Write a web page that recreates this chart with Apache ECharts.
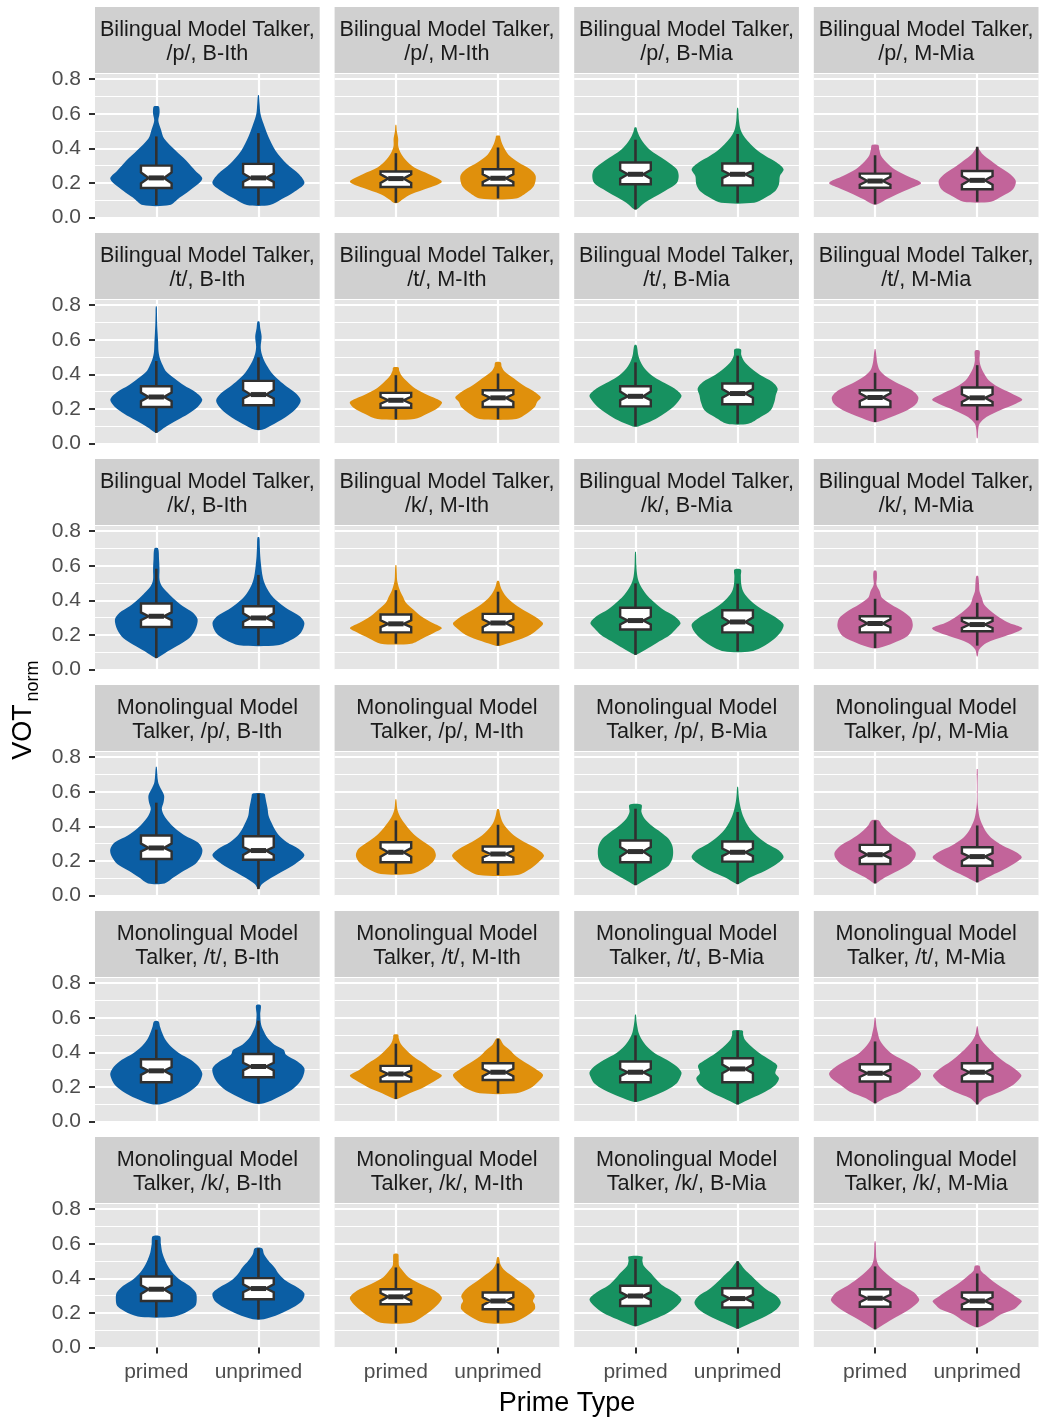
<!DOCTYPE html>
<html>
<head>
<meta charset="utf-8">
<script src="https://cdn.jsdelivr.net/npm/echarts@6/dist/echarts.min.js"></script>
<style>
  html, body { margin: 0; padding: 0; background: #fff; }
  #chart { width: 1041px; height: 1420px; }
</style>
</head>
<body>
<div id="chart"></div>
<script>
// facets
var primeTypes = ['primed', 'unprimed'];
var talkerLabel = ['Bilingual Model Talker,\n', 'Monolingual Model\nTalker, '];
var stops = ['/p/', '/t/', '/k/'];
var conditions = ['B-Ith', 'M-Ith', 'B-Mia', 'M-Mia'];
var fills = ['#0B5EA4', '#E0900C', '#179160', '#C2649A'];
var yTicks = [0, 0.2, 0.4, 0.6, 0.8];

// violin outlines: [VOT, relative half width], bottom to top
// order in each row: B-Ith primed, B-Ith unprimed, M-Ith primed, M-Ith unprimed, B-Mia .., M-Mia ..
var violinsBiP = [
  [[0.072,0.29],[0.116,0.51],[0.155,0.72],[0.223,1.0],[0.27,0.85],[0.33,0.65],[0.388,0.42],[0.457,0.17],[0.51,0.1],[0.56,0.045],[0.6,0.07],[0.628,0.07],[0.643,0.05]],
  [[0.072,0.25],[0.107,0.51],[0.145,0.76],[0.198,1.0],[0.252,0.88],[0.31,0.62],[0.388,0.37],[0.465,0.22],[0.543,0.11],[0.6,0.045],[0.66,0.025],[0.707,0.01]],
  [[0.085,0.05],[0.105,0.15],[0.134,0.33],[0.172,0.72],[0.207,1.0],[0.25,0.72],[0.289,0.4],[0.337,0.2],[0.376,0.1],[0.415,0.05],[0.455,0.05],[0.5,0.02],[0.535,0.01]],
  [[0.11,0.39],[0.143,0.62],[0.182,0.78],[0.24,0.82],[0.279,0.7],[0.318,0.45],[0.357,0.25],[0.395,0.15],[0.434,0.08],[0.463,0.05],[0.473,0.04]],
  [[0.047,0.03],[0.085,0.2],[0.124,0.45],[0.163,0.7],[0.2,0.9],[0.24,0.94],[0.279,0.9],[0.318,0.72],[0.357,0.5],[0.395,0.3],[0.434,0.17],[0.473,0.08],[0.5,0.04],[0.521,0.02]],
  [[0.085,0.36],[0.114,0.6],[0.153,0.82],[0.192,0.9],[0.24,0.92],[0.279,1.0],[0.318,0.85],[0.357,0.6],[0.395,0.4],[0.434,0.25],[0.473,0.13],[0.512,0.06],[0.56,0.03],[0.6,0.02],[0.634,0.01]],
  [[0.076,0.05],[0.105,0.25],[0.143,0.55],[0.172,0.8],[0.2,1.0],[0.24,0.7],[0.279,0.42],[0.318,0.25],[0.357,0.13],[0.395,0.09],[0.419,0.07]],
  [[0.091,0.3],[0.124,0.55],[0.163,0.78],[0.211,0.84],[0.25,0.72],[0.289,0.5],[0.328,0.3],[0.366,0.12],[0.395,0.04],[0.409,0.01]]
];
var violinsBiT = [
  [[0.062,0.02],[0.095,0.2],[0.134,0.45],[0.172,0.7],[0.211,0.9],[0.254,1.0],[0.298,0.85],[0.337,0.6],[0.376,0.4],[0.415,0.22],[0.453,0.14],[0.492,0.08],[0.531,0.05],[0.589,0.04],[0.638,0.03],[0.696,0.02],[0.754,0.015],[0.793,0.01]],
  [[0.079,0.08],[0.114,0.35],[0.163,0.65],[0.211,0.85],[0.25,0.92],[0.289,0.82],[0.328,0.62],[0.366,0.45],[0.405,0.3],[0.444,0.2],[0.483,0.12],[0.521,0.07],[0.56,0.05],[0.618,0.07],[0.667,0.04],[0.705,0.02]],
  [[0.141,0.4],[0.172,0.68],[0.207,0.92],[0.24,1.0],[0.279,0.7],[0.318,0.42],[0.357,0.25],[0.395,0.12],[0.424,0.07],[0.44,0.06]],
  [[0.141,0.4],[0.172,0.62],[0.211,0.8],[0.24,0.85],[0.266,0.93],[0.298,0.8],[0.337,0.55],[0.376,0.35],[0.415,0.15],[0.444,0.08],[0.469,0.06]],
  [[0.099,0.06],[0.134,0.38],[0.172,0.62],[0.211,0.82],[0.25,0.95],[0.279,1.0],[0.318,0.85],[0.357,0.58],[0.395,0.35],[0.434,0.2],[0.473,0.11],[0.512,0.06],[0.55,0.04],[0.57,0.02]],
  [[0.114,0.23],[0.153,0.5],[0.192,0.72],[0.24,0.8],[0.279,0.83],[0.318,0.87],[0.357,0.75],[0.395,0.5],[0.434,0.3],[0.473,0.15],[0.512,0.08],[0.545,0.07]],
  [[0.124,0.05],[0.153,0.35],[0.192,0.7],[0.231,0.9],[0.269,0.94],[0.308,0.8],[0.347,0.5],[0.386,0.25],[0.424,0.1],[0.463,0.05],[0.502,0.03],[0.545,0.01]],
  [[0.031,0.01],[0.076,0.02],[0.114,0.05],[0.153,0.2],[0.192,0.5],[0.231,0.85],[0.254,0.98],[0.289,0.75],[0.328,0.45],[0.366,0.25],[0.405,0.15],[0.444,0.08],[0.483,0.05],[0.537,0.05]]
];
var violinsBiK = [
  [[0.066,0.02],[0.105,0.25],[0.143,0.5],[0.182,0.72],[0.231,0.85],[0.289,0.9],[0.328,0.8],[0.366,0.58],[0.405,0.4],[0.444,0.25],[0.483,0.12],[0.521,0.07],[0.579,0.07],[0.638,0.06],[0.7,0.04]],
  [[0.14,0.42],[0.172,0.72],[0.211,0.92],[0.269,1.0],[0.308,0.9],[0.347,0.65],[0.386,0.45],[0.424,0.3],[0.463,0.2],[0.502,0.13],[0.541,0.09],[0.599,0.06],[0.657,0.04],[0.715,0.03],[0.764,0.02]],
  [[0.149,0.33],[0.182,0.6],[0.215,0.85],[0.24,1.0],[0.269,0.8],[0.308,0.55],[0.347,0.38],[0.386,0.22],[0.424,0.15],[0.463,0.08],[0.512,0.03],[0.56,0.02],[0.603,0.01]],
  [[0.138,0.05],[0.163,0.35],[0.2,0.7],[0.24,0.9],[0.266,0.98],[0.298,0.85],[0.337,0.6],[0.376,0.37],[0.415,0.2],[0.453,0.1],[0.483,0.05],[0.512,0.02]],
  [[0.085,0.02],[0.124,0.28],[0.163,0.52],[0.2,0.75],[0.24,0.9],[0.269,0.98],[0.308,0.85],[0.347,0.6],[0.386,0.42],[0.424,0.27],[0.463,0.16],[0.502,0.08],[0.541,0.04],[0.599,0.02],[0.68,0.01]],
  [[0.105,0.3],[0.143,0.62],[0.182,0.82],[0.221,0.95],[0.26,1.0],[0.298,0.85],[0.337,0.6],[0.376,0.38],[0.415,0.22],[0.453,0.12],[0.492,0.08],[0.541,0.07],[0.579,0.07]],
  [[0.124,0.08],[0.153,0.4],[0.192,0.7],[0.231,0.8],[0.26,0.82],[0.298,0.78],[0.337,0.6],[0.376,0.35],[0.415,0.15],[0.453,0.1],[0.492,0.03],[0.531,0.04],[0.57,0.03]],
  [[0.076,0.01],[0.114,0.04],[0.153,0.2],[0.192,0.6],[0.221,0.9],[0.24,0.98],[0.269,0.7],[0.298,0.5],[0.337,0.3],[0.376,0.15],[0.415,0.1],[0.453,0.05],[0.492,0.04],[0.541,0.02]]
];
var violinsMoP = [
  [[0.07,0.18],[0.105,0.38],[0.143,0.6],[0.182,0.85],[0.231,0.98],[0.269,1.0],[0.308,0.9],[0.347,0.62],[0.386,0.42],[0.424,0.28],[0.463,0.17],[0.502,0.12],[0.541,0.16],[0.579,0.17],[0.618,0.1],[0.657,0.04],[0.744,0.01]],
  [[0.037,0.01],[0.066,0.08],[0.105,0.3],[0.143,0.55],[0.182,0.8],[0.231,1.0],[0.269,0.88],[0.308,0.62],[0.347,0.45],[0.386,0.35],[0.424,0.28],[0.463,0.22],[0.502,0.2],[0.541,0.17],[0.57,0.15],[0.589,0.13]],
  [[0.124,0.33],[0.153,0.6],[0.192,0.8],[0.231,0.87],[0.269,0.82],[0.308,0.62],[0.347,0.42],[0.386,0.28],[0.424,0.17],[0.463,0.08],[0.502,0.03],[0.556,0.01]],
  [[0.118,0.42],[0.153,0.7],[0.192,0.88],[0.231,1.0],[0.269,0.85],[0.308,0.58],[0.347,0.35],[0.386,0.2],[0.424,0.1],[0.463,0.05],[0.498,0.02]],
  [[0.06,0.02],[0.095,0.25],[0.134,0.5],[0.172,0.72],[0.211,0.8],[0.25,0.82],[0.289,0.8],[0.328,0.72],[0.366,0.55],[0.405,0.35],[0.444,0.2],[0.483,0.13],[0.525,0.13]],
  [[0.066,0.02],[0.105,0.28],[0.143,0.6],[0.182,0.85],[0.221,1.0],[0.26,0.9],[0.298,0.65],[0.337,0.45],[0.376,0.3],[0.415,0.2],[0.453,0.13],[0.492,0.08],[0.541,0.04],[0.589,0.02],[0.628,0.01]],
  [[0.07,0.02],[0.105,0.22],[0.143,0.5],[0.182,0.75],[0.221,0.87],[0.25,0.88],[0.289,0.75],[0.328,0.5],[0.366,0.3],[0.405,0.15],[0.434,0.08]],
  [[0.076,0.02],[0.114,0.3],[0.153,0.6],[0.192,0.85],[0.221,0.97],[0.25,0.85],[0.289,0.55],[0.328,0.33],[0.366,0.2],[0.405,0.12],[0.444,0.06],[0.483,0.03],[0.541,0.01],[0.64,0.008],[0.731,0.01]]
];
var violinsMoT = [
  [[0.101,0.12],[0.134,0.45],[0.172,0.72],[0.211,0.9],[0.25,0.98],[0.279,1.0],[0.318,0.92],[0.357,0.75],[0.395,0.5],[0.434,0.32],[0.473,0.2],[0.512,0.13],[0.55,0.08],[0.579,0.05]],
  [[0.105,0.12],[0.143,0.45],[0.182,0.72],[0.221,0.88],[0.26,0.97],[0.308,1.0],[0.347,0.85],[0.386,0.6],[0.415,0.55],[0.444,0.35],[0.483,0.2],[0.521,0.12],[0.56,0.06],[0.618,0.04],[0.672,0.05]],
  [[0.13,0.03],[0.163,0.3],[0.2,0.62],[0.24,0.88],[0.266,1.0],[0.298,0.8],[0.337,0.6],[0.376,0.38],[0.415,0.22],[0.453,0.1],[0.483,0.06],[0.502,0.05]],
  [[0.163,0.4],[0.192,0.7],[0.231,0.88],[0.269,0.98],[0.298,0.85],[0.337,0.62],[0.376,0.4],[0.415,0.25],[0.444,0.12],[0.479,0.04]],
  [[0.114,0.05],[0.143,0.35],[0.182,0.68],[0.221,0.9],[0.26,0.98],[0.285,1.0],[0.318,0.9],[0.357,0.68],[0.395,0.42],[0.434,0.25],[0.473,0.14],[0.512,0.07],[0.55,0.04],[0.589,0.02],[0.618,0.01]],
  [[0.099,0.02],[0.134,0.3],[0.172,0.6],[0.211,0.82],[0.25,0.9],[0.279,0.82],[0.324,0.86],[0.357,0.7],[0.395,0.48],[0.434,0.3],[0.473,0.16],[0.502,0.12],[0.525,0.11]],
  [[0.105,0.02],[0.134,0.2],[0.172,0.55],[0.211,0.75],[0.25,0.95],[0.279,1.0],[0.318,0.85],[0.357,0.6],[0.395,0.35],[0.434,0.2],[0.473,0.1],[0.512,0.06],[0.55,0.03],[0.599,0.01]],
  [[0.099,0.01],[0.134,0.15],[0.172,0.5],[0.211,0.78],[0.25,0.93],[0.269,0.96],[0.308,0.8],[0.347,0.58],[0.386,0.4],[0.424,0.25],[0.463,0.12],[0.502,0.04],[0.55,0.01]]
];
var violinsMoK = [
  [[0.176,0.33],[0.2,0.62],[0.24,0.85],[0.279,0.88],[0.318,0.86],[0.357,0.72],[0.395,0.5],[0.434,0.35],[0.473,0.25],[0.512,0.18],[0.55,0.13],[0.599,0.1],[0.643,0.08]],
  [[0.163,0.12],[0.192,0.45],[0.231,0.75],[0.269,0.95],[0.312,1.0],[0.347,0.85],[0.386,0.6],[0.424,0.45],[0.463,0.35],[0.502,0.22],[0.541,0.12],[0.574,0.08]],
  [[0.143,0.33],[0.182,0.6],[0.221,0.8],[0.26,0.95],[0.289,1.0],[0.328,0.85],[0.366,0.55],[0.405,0.28],[0.444,0.15],[0.473,0.07],[0.512,0.06],[0.541,0.05]],
  [[0.143,0.3],[0.182,0.62],[0.221,0.8],[0.25,0.8],[0.269,0.76],[0.298,0.8],[0.337,0.7],[0.376,0.5],[0.415,0.3],[0.453,0.12],[0.483,0.05],[0.521,0.02]],
  [[0.124,0.05],[0.163,0.4],[0.2,0.7],[0.24,0.9],[0.279,1.0],[0.318,0.85],[0.357,0.6],[0.395,0.45],[0.434,0.32],[0.473,0.18],[0.502,0.15],[0.527,0.15]],
  [[0.109,0.02],[0.143,0.3],[0.182,0.62],[0.221,0.85],[0.26,0.94],[0.298,0.85],[0.337,0.62],[0.376,0.45],[0.415,0.3],[0.453,0.15],[0.498,0.02]],
  [[0.105,0.02],[0.143,0.25],[0.182,0.5],[0.221,0.75],[0.26,0.93],[0.279,0.96],[0.318,0.85],[0.357,0.6],[0.395,0.4],[0.434,0.22],[0.473,0.08],[0.512,0.03],[0.56,0.02],[0.614,0.01]],
  [[0.118,0.05],[0.153,0.3],[0.192,0.52],[0.221,0.8],[0.25,0.92],[0.269,0.97],[0.298,0.82],[0.337,0.6],[0.376,0.38],[0.415,0.2],[0.444,0.08],[0.473,0.05]]
];

// boxplots: [lower whisker, q1, notch low, median, notch high, q3, upper whisker]
var boxesBiP = [
  [0.072,0.171,0.198,0.229,0.261,0.30,0.469],[0.072,0.174,0.205,0.229,0.255,0.31,0.488],
  [0.085,0.176,0.2,0.225,0.25,0.266,0.372],[0.11,0.186,0.205,0.227,0.25,0.279,0.405],
  [0.047,0.192,0.225,0.25,0.275,0.318,0.45],[0.085,0.186,0.228,0.25,0.272,0.312,0.483],
  [0.076,0.172,0.19,0.211,0.235,0.254,0.36],[0.091,0.163,0.19,0.215,0.24,0.269,0.409]
];
var boxesBiT = [
  [0.062,0.211,0.245,0.269,0.295,0.331,0.477],[0.079,0.221,0.26,0.283,0.31,0.362,0.498],
  [0.141,0.207,0.23,0.25,0.27,0.293,0.395],[0.141,0.211,0.24,0.264,0.285,0.308,0.405],
  [0.099,0.215,0.25,0.273,0.3,0.331,0.469],[0.114,0.227,0.265,0.289,0.315,0.347,0.508],
  [0.124,0.211,0.245,0.266,0.29,0.308,0.409],[0.134,0.221,0.24,0.264,0.285,0.324,0.453]
];
var boxesBiK = [
  [0.066,0.246,0.285,0.308,0.33,0.382,0.583],[0.14,0.244,0.275,0.298,0.325,0.366,0.547],
  [0.149,0.215,0.245,0.264,0.285,0.318,0.459],[0.138,0.215,0.245,0.269,0.29,0.322,0.45],
  [0.085,0.231,0.26,0.283,0.305,0.357,0.498],[0.105,0.215,0.25,0.275,0.3,0.343,0.496],
  [0.124,0.215,0.245,0.266,0.29,0.308,0.409],[0.138,0.221,0.24,0.26,0.28,0.298,0.386]
];
var boxesMoP = [
  [0.07,0.211,0.255,0.275,0.3,0.347,0.537],[0.037,0.207,0.235,0.26,0.28,0.343,0.589],
  [0.124,0.192,0.225,0.25,0.275,0.308,0.434],[0.118,0.192,0.22,0.24,0.26,0.283,0.409],
  [0.06,0.192,0.225,0.254,0.28,0.318,0.502],[0.066,0.196,0.228,0.25,0.272,0.312,0.483],
  [0.07,0.182,0.215,0.236,0.26,0.293,0.434],[0.076,0.172,0.2,0.225,0.245,0.279,0.405]
];
var boxesMoT = [
  [0.101,0.227,0.27,0.293,0.315,0.36,0.531],[0.105,0.256,0.295,0.318,0.34,0.39,0.583],
  [0.13,0.231,0.255,0.275,0.295,0.322,0.45],[0.163,0.24,0.262,0.285,0.305,0.337,0.479],
  [0.114,0.227,0.262,0.285,0.305,0.347,0.498],[0.099,0.227,0.28,0.304,0.33,0.366,0.525],
  [0.105,0.231,0.258,0.279,0.3,0.331,0.463],[0.099,0.231,0.262,0.285,0.305,0.337,0.448]
];
var boxesMoK = [
  [0.176,0.269,0.31,0.337,0.36,0.411,0.622],[0.163,0.279,0.32,0.341,0.365,0.401,0.574],
  [0.143,0.25,0.27,0.293,0.315,0.337,0.463],[0.143,0.221,0.245,0.269,0.29,0.318,0.486],
  [0.124,0.24,0.275,0.298,0.32,0.357,0.512],[0.109,0.231,0.26,0.283,0.305,0.343,0.498],
  [0.105,0.236,0.262,0.285,0.305,0.337,0.469],[0.118,0.221,0.248,0.269,0.29,0.318,0.428]
];

var rowViolins = [violinsBiP, violinsBiT, violinsBiK, violinsMoP, violinsMoT, violinsMoK];
var rowBoxes = [boxesBiP, boxesBiT, boxesBiK, boxesMoP, boxesMoT, boxesMoK];

// layout (px)
var PANEL_X = 95, PANEL_Y = 74, PANEL_W = 224.7, PANEL_H = 143.5;
var COL_STEP = 239.6, ROW_STEP = 226, STRIP_H = 66;
var PANEL_BG = '#E5E5E5', STRIP_BG = '#D0D0D0', INK = '#303030';
var FONT = 'Liberation Sans, Arial, sans-serif';

// x positions 0.4..2.6 in steps of 0.1 as a category axis; primed = slot 6, unprimed = slot 16
var slotOf = [6, 16];
var xSlots = [];
for (var s = 0; s <= 22; s++) {
  xSlots.push(s === 6 ? primeTypes[0] : s === 16 ? primeTypes[1] : 's' + s);
}
function isSlot(idx) { return idx === 6 || idx === 16; }

function violinRenderer(profiles, boxes, col) {
  return function (params, api) {
    var k = params.dataIndex;
    var v = col * 2 + k;
    var slot = slotOf[k];
    var unit = api.coord([16, 0])[0] - api.coord([6, 0])[0];
    var cx = api.coord([slot, 0])[0];
    var py = function (y) { return api.coord([slot, y])[1]; };
    var half = 0.45 * unit;
    var prof = profiles[v];
    var pts = [];
    for (var i = 0; i < prof.length; i++) pts.push([cx + prof[i][1] * half, py(prof[i][0])]);
    for (var j = prof.length - 1; j >= 0; j--) pts.push([cx - prof[j][1] * half, py(prof[j][0])]);

    var b = boxes[v];
    var hb = 0.15 * unit, hn = hb * 0.5;
    var yq1 = py(b[1]), ynl = py(b[2]), ymd = py(b[3]), ynh = py(b[4]), yq3 = py(b[5]);
    var boxPts = [
      [cx - hb, yq3], [cx + hb, yq3], [cx + hb, ynh], [cx + hn, ymd], [cx + hb, ynl],
      [cx + hb, yq1], [cx - hb, yq1], [cx - hb, ynl], [cx - hn, ymd], [cx - hb, ynh]
    ];
    return {
      type: 'group',
      children: [
        { type: 'polygon', shape: { points: pts, smooth: 0.3 }, style: { fill: fills[col] } },
        { type: 'line', shape: { x1: cx, y1: py(b[0]), x2: cx, y2: yq1 }, style: { stroke: INK, lineWidth: 2.6 } },
        { type: 'line', shape: { x1: cx, y1: yq3, x2: cx, y2: py(b[6]) }, style: { stroke: INK, lineWidth: 2.6 } },
        { type: 'polygon', shape: { points: boxPts }, style: { fill: '#ffffff', stroke: INK, lineWidth: 2.4 } },
        { type: 'line', shape: { x1: cx - hn, y1: ymd, x2: cx + hn, y2: ymd }, style: { stroke: INK, lineWidth: 5 } }
      ]
    };
  };
}

var grids = [], xAxes = [], yAxes = [], series = [], graphics = [];

for (var r = 0; r < 6; r++) {
  for (var c = 0; c < 4; c++) {
    var gi = r * 4 + c;
    var panelLeft = PANEL_X + c * COL_STEP;
    var panelTop = PANEL_Y + r * ROW_STEP;
    var bottomRow = r === 5, leftCol = c === 0;

    grids.push({ left: panelLeft, top: panelTop, width: PANEL_W, height: PANEL_H, show: true, backgroundColor: PANEL_BG, borderWidth: 0 });

    xAxes.push({
      type: 'category', gridIndex: gi, data: xSlots, boundaryGap: false,
      axisLine: { show: false },
      axisTick: { show: bottomRow, interval: isSlot, length: 6, lineStyle: { color: INK, width: 2 } },
      axisLabel: { show: bottomRow, interval: isSlot, margin: 14, color: '#4D4D4D', fontSize: 21, fontFamily: FONT },
      splitLine: { show: true, interval: isSlot, lineStyle: { color: '#ffffff', width: 2.2 } }
    });

    yAxes.push({
      type: 'value', gridIndex: gi, min: 0, max: 0.83, interval: 0.2,
      axisLine: { show: false },
      axisTick: { show: leftCol, customValues: yTicks, length: 6, lineStyle: { color: INK, width: 2 } },
      axisLabel: { show: leftCol, customValues: yTicks, margin: 14, color: '#4D4D4D', fontSize: 21, fontFamily: FONT,
        formatter: function (v) { return v.toFixed(1); } },
      splitLine: { show: true, lineStyle: { color: '#ffffff', width: 2.2 } },
      minorTick: { show: false, splitNumber: 2 },
      minorSplitLine: { show: true, lineStyle: { color: '#ffffff', width: 1.1 } }
    });

    var bx = rowBoxes[r];
    series.push({
      type: 'custom', xAxisIndex: gi, yAxisIndex: gi, silent: true,
      data: [[slotOf[0], bx[c * 2][3]], [slotOf[1], bx[c * 2 + 1][3]]],
      encode: { x: 0, y: 1 },
      renderItem: violinRenderer(rowViolins[r], bx, c)
    });

    var talker = r < 3 ? 0 : 1;
    graphics.push({
      type: 'rect', shape: { x: panelLeft, y: panelTop - STRIP_H - 1, width: PANEL_W, height: STRIP_H },
      style: { fill: STRIP_BG }, silent: true
    });
    graphics.push({
      type: 'text', x: panelLeft + PANEL_W / 2, y: panelTop - STRIP_H - 1 + STRIP_H / 2 + 2, silent: true,
      style: {
        text: talkerLabel[talker] + stops[r % 3] + ', ' + conditions[c],
        fill: '#1A1A1A', fontSize: 21.6, fontFamily: FONT, lineHeight: 24,
        align: 'center', verticalAlign: 'middle'
      }
    });
  }
}

// axis titles
graphics.push({
  type: 'text', x: 567, y: 1404, silent: true,
  style: { text: 'Prime Type', fill: '#000', fontSize: 27, fontFamily: FONT, align: 'center', verticalAlign: 'middle' }
});
graphics.push({
  type: 'text', x: 24, y: 732, rotation: Math.PI / 2, silent: true,
  style: { text: 'VOT', fill: '#000', fontSize: 27, fontFamily: FONT, align: 'center', verticalAlign: 'middle' }
});
graphics.push({
  type: 'text', x: 33, y: 681, rotation: Math.PI / 2, silent: true,
  style: { text: 'norm', fill: '#000', fontSize: 18, fontFamily: FONT, align: 'center', verticalAlign: 'middle' }
});

var chart = echarts.init(document.getElementById('chart'), null, { renderer: 'canvas' });
chart.setOption({
  backgroundColor: '#ffffff',
  animation: false,
  grid: grids,
  xAxis: xAxes,
  yAxis: yAxes,
  series: series,
  graphic: graphics
});
</script>
</body>
</html>
